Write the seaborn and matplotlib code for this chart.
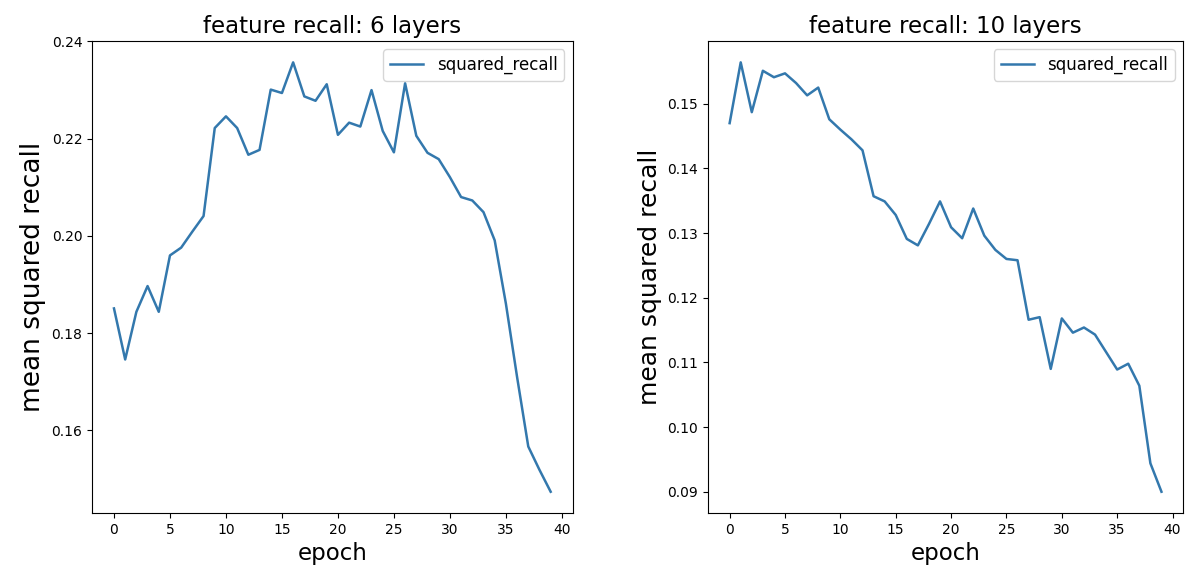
import matplotlib
matplotlib.use("Agg")
import matplotlib.pyplot as plt
import seaborn as sns
import pandas as pd

epochs = list(range(40))

recall_6 = [
    0.1851, 0.1746, 0.1844, 0.1897, 0.1844, 0.1960, 0.1976, 0.2009, 0.2041, 0.2222,
    0.2246, 0.2222, 0.2167, 0.2177, 0.2301, 0.2294, 0.2357, 0.2287, 0.2278, 0.2312,
    0.2208, 0.2233, 0.2225, 0.2300, 0.2216, 0.2172, 0.2314, 0.2206, 0.2171, 0.2158,
    0.2121, 0.2080, 0.2073, 0.2049, 0.1991, 0.1861, 0.1710, 0.1567, 0.1519, 0.1474,
]

recall_10 = [
    0.1470, 0.1564, 0.1487, 0.1551, 0.1541, 0.1547, 0.1532, 0.1513, 0.1525, 0.1476,
    0.1460, 0.1445, 0.1428, 0.1357, 0.1349, 0.1328, 0.1291, 0.1281, 0.1314, 0.1349,
    0.1309, 0.1292, 0.1338, 0.1296, 0.1274, 0.1260, 0.1258, 0.1166, 0.1170, 0.1090,
    0.1168, 0.1146, 0.1154, 0.1143, 0.1116, 0.1089, 0.1098, 0.1064, 0.0944, 0.0900,
]

titles = ["feature recall: 6 layers", "feature recall: 10 layers"]
ylabel_sizes = [19, 18]
line_color = "#3378ad"

plt.rcParams["font.family"] = ["DejaVu Sans"]

fig = plt.figure(figsize=(11.89, 5.76), dpi=100)
ax1 = fig.add_axes([0.0775, 0.109, 0.404, 0.82])
ax2 = fig.add_axes([0.5955, 0.109, 0.3995, 0.82])

for ax, values, title, ysize in zip([ax1, ax2], [recall_6, recall_10], titles, ylabel_sizes):
    df = pd.DataFrame({"epoch": epochs, "squared_recall": values})
    sns.lineplot(data=df, x="epoch", y="squared_recall", ax=ax,
                 color=line_color, linewidth=1.8, label="squared_recall")
    ax.set_xticks(range(0, 41, 5))
    ax.set_title(title, fontsize=16.5)
    ax.set_xlabel("epoch", fontsize=16.5)
    ax.set_ylabel("mean squared recall", fontsize=ysize)
    ax.tick_params(labelsize=10)
    ax.legend(loc="upper right", fontsize=12)

plt.savefig("out.png", dpi=100)
plt.close()
